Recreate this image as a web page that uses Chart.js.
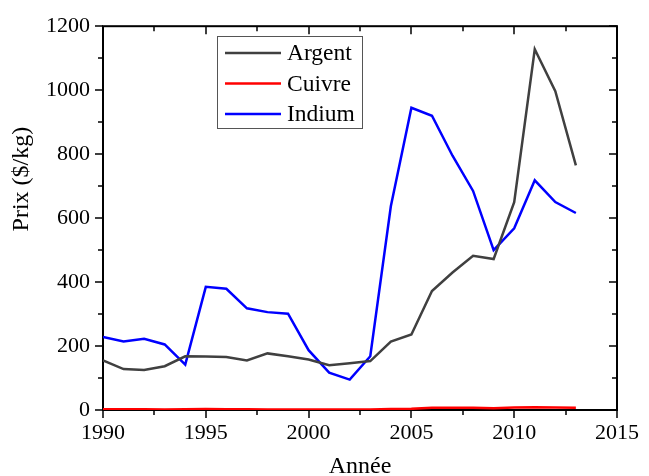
<!DOCTYPE html>
<html>
<head>
<meta charset="utf-8">
<script src="https://cdn.jsdelivr.net/npm/chart.js@4/dist/chart.umd.min.js"></script>
<style>
  html, body { margin: 0; padding: 0; background: #fff; overflow: hidden; }
  #zone { width: 649px; height: 476px; overflow: hidden; }
</style>
</head>
<body>
<div id="zone"><canvas id="prix" width="649" height="490"></canvas></div>
<script>
// Donnees
const annees = [1990, 1991, 1992, 1993, 1994, 1995, 1996, 1997, 1998, 1999, 2000, 2001,
                2002, 2003, 2004, 2005, 2006, 2007, 2008, 2009, 2010, 2011, 2012, 2013];
const argent = [155, 128, 125, 137, 168, 167, 166, 155, 177, 168, 158, 140,
                146, 153, 214, 236, 372, 430, 482, 472, 650, 1128, 997, 765];
const cuivre = [2.6, 2.3, 2.3, 1.9, 2.3, 2.9, 2.3, 2.3, 1.7, 1.6, 1.8, 1.6,
                1.6, 1.8, 2.9, 3.7, 6.7, 7.1, 6.9, 5.2, 7.5, 8.8, 7.9, 7.3];
const indium = [228, 214, 223, 205, 142, 385, 379, 318, 306, 301, 187, 117,
                95, 168, 637, 945, 920, 795, 685, 500, 568, 718, 650, 616];
const noms = ['Argent', 'Cuivre', 'Indium'];
const couleurs = ['#404040', '#ff0000', '#0000ff'];

const police = 'Liberation Serif, Times New Roman, serif';
Chart.defaults.font.family = police;
Chart.defaults.color = '#000';

function points(valeurs){
    return valeurs.map((v, i) => ({ x: annees[i], y: v }));
}

// cadre + graduations (majeures et mineures)
const cadre = {
    id: 'cadre',
    beforeDatasetsDraw(chart){
        const ctx = chart.ctx;
        const a = chart.chartArea;
        const sx = chart.scales.x, sy = chart.scales.y;
        ctx.save();
        ctx.strokeStyle = '#000';
        ctx.lineWidth = 2;
        ctx.strokeRect(a.left, a.top, a.right - a.left, a.bottom - a.top);
        ctx.lineWidth = 1.5;
        ctx.beginPath();
        for (let v = 1990; v <= 2015; v += 2.5) {
            const x = Math.round(sx.getPixelForValue(v));
            const l = (v % 5 === 0) ? 8 : 5;
            ctx.moveTo(x, a.bottom); ctx.lineTo(x, a.bottom + l);
            ctx.moveTo(x, a.top); ctx.lineTo(x, a.top + l);
        }
        for (let v = 0; v <= 1200; v += 100) {
            const y = Math.round(sy.getPixelForValue(v));
            const l = (v % 200 === 0) ? 8 : 5;
            ctx.moveTo(a.left, y); ctx.lineTo(a.left - l, y);
            ctx.moveTo(a.right, y); ctx.lineTo(a.right - l, y);
        }
        ctx.stroke();
        ctx.restore();
    }
};

// legende dans la zone du graphique
const legende = {
    id: 'legende',
    afterDatasetsDraw(chart){
        const ctx = chart.ctx;
        ctx.save();
        ctx.fillStyle = '#fff';
        ctx.fillRect(217, 36, 145, 92);
        ctx.strokeStyle = '#555';
        ctx.lineWidth = 1;
        ctx.strokeRect(217.5, 36.5, 145, 92);
        ctx.font = '23.5px ' + police;
        ctx.textBaseline = 'middle';
        chart.data.datasets.forEach((ds, i) => {
            const y = 53 + i * 30.5;
            ctx.strokeStyle = ds.borderColor;
            ctx.lineWidth = 2.5;
            ctx.beginPath();
            ctx.moveTo(225, y); ctx.lineTo(281, y);
            ctx.stroke();
            ctx.fillStyle = '#000';
            ctx.fillText(ds.label, 287, y + 1);
        });
        ctx.restore();
    }
};

let graphePrix = new Chart(document.getElementById('prix').getContext('2d'), {
    type: 'line',
    data: {
        datasets: [
            { label: noms[0], data: points(argent), borderColor: couleurs[0] },
            { label: noms[1], data: points(cuivre), borderColor: couleurs[1] },
            { label: noms[2], data: points(indium), borderColor: couleurs[2] }
        ]
    },
    options: {
        responsive: false,
        animation: false,
        devicePixelRatio: 1,
        layout: { padding: { top: 24, right: 22, left: 0, bottom: 0 } },
        elements: {
            line: { borderWidth: 2.5, tension: 0 },
            point: { radius: 0 }
        },
        plugins: {
            legend: { display: false },
            tooltip: { enabled: false }
        },
        scales: {
            x: {
                type: 'linear',
                min: 1990,
                max: 2015,
                grid: { display: false, drawTicks: false },
                border: { display: false },
                ticks: { stepSize: 5, padding: 10, font: { size: 22 }, maxRotation: 0,
                         callback: v => String(v) },
                title: { display: true, text: 'Année', font: { size: 24 }, padding: { top: 0, bottom: 9 } },
                afterFit: s => { s.height = 80; }
            },
            y: {
                min: 0,
                max: 1200,
                grid: { display: false, drawTicks: false },
                border: { display: false },
                ticks: { stepSize: 200, padding: 13, font: { size: 22 },
                         callback: v => String(v) },
                // titre decale vers le haut comme sur l'original
                title: { display: true, text: '\u2003\u2003\u2003 Prix ($/kg)', font: { size: 24 }, padding: { top: 7, bottom: 0 } },
                afterFit: s => { s.width = 103; }
            }
        }
    },
    plugins: [cadre, legende]
});
</script>
</body>
</html>
